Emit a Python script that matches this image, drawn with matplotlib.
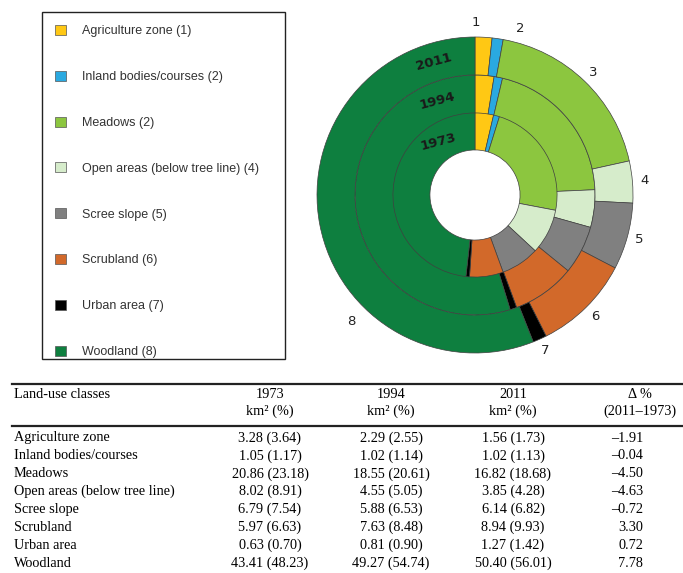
import numpy as np
import matplotlib.pyplot as plt
from matplotlib.patches import Patch, Rectangle
from matplotlib.lines import Line2D

# Land-use data (km2 and % of area) per year
clases = ['Agriculture zone', 'Inland bodies/courses', 'Meadows',
          'Open areas (below tree line)', 'Scree slope', 'Scrubland',
          'Urban area', 'Woodland']
leyenda = ['Agriculture zone (1)', 'Inland bodies/courses (2)', 'Meadows (2)',
           'Open areas (below tree line) (4)', 'Scree slope (5)',
           'Scrubland (6)', 'Urban area (7)', 'Woodland (8)']
numeros = ['1', '2', '3', '4', '5', '6', '7', '8']
anios = ['1973', '1994', '2011']

km2_1973 = [3.28, 1.05, 20.86, 8.02, 6.79, 5.97, 0.63, 43.41]
pct_1973 = [3.64, 1.17, 23.18, 8.91, 7.54, 6.63, 0.70, 48.23]
km2_1994 = [2.29, 1.02, 18.55, 4.55, 5.88, 7.63, 0.81, 49.27]
pct_1994 = [2.55, 1.14, 20.61, 5.05, 6.53, 8.48, 0.90, 54.74]
km2_2011 = [1.56, 1.02, 16.82, 3.85, 6.14, 8.94, 1.27, 50.40]
pct_2011 = [1.73, 1.13, 18.68, 4.28, 6.82, 9.93, 1.42, 56.01]
delta = [-1.91, -0.04, -4.50, -4.63, -0.72, 3.30, 0.72, 7.78]

colores = ['#FFC814', '#2AA9E0', '#8CC63F', '#D6ECCB', '#808080',
           '#D2692A', '#000000', '#0E7F3F']

W, H = 683, 573
fig = plt.figure(figsize=(W / 100, H / 100), dpi=100)


def fx(px):
    return px / W


def fy(py):
    return 1 - py / H


# ---- donut ----
cx, cy, R, half = 475, 195, 158, 178
ax = fig.add_axes([fx(cx - half), fy(cy + half), 2 * half / W, 2 * half / H])
radios = [83 / R, 120 / R, 1.0]
ancho = 37 / R
for pct, r in zip([pct_1973, pct_1994, pct_2011], radios):
    ax.pie(pct, radius=r, colors=colores, startangle=90, counterclock=False,
           wedgeprops=dict(width=ancho + 0.006, edgecolor='#404040', linewidth=0.5))
ax.set_xlim(-half / R, half / R)
ax.set_ylim(-half / R, half / R)
ax.set_aspect('equal')
ax.axis('off')

# class numbers around the outer ring (2011)
tot = sum(pct_2011)
medios = (np.cumsum(pct_2011) - np.array(pct_2011) / 2) / tot * 360
ajuste = {0: (-3, 1.09), 1: (7, 1.09), 7: (-35, 1.12)}
for i, num in enumerate(numeros):
    dang, rr = ajuste.get(i, (0, 1.08))
    a = np.deg2rad(90 - (medios[i] + dang))
    ax.text(rr * np.cos(a), rr * np.sin(a), num, ha='center', va='center',
            fontsize=9.5, color='#222222')

# year labels inside the woodland wedge
for anio, r, ang in zip(anios, radios, [35, 22, 17]):
    rm = r - ancho / 2
    a = np.deg2rad(90 + ang)
    ax.text(rm * np.cos(a), rm * np.sin(a), anio, ha='center', va='center',
            fontsize=9.5, fontweight='bold', color='#1a1a1a', rotation=15)

# ---- legend ----
handles = [Patch(facecolor=c, edgecolor='#555555', linewidth=0.5) for c in colores]
fig.add_artist(Rectangle((fx(42), fy(359)), fx(285) - fx(42), fy(12) - fy(359),
                         transform=fig.transFigure, fill=False,
                         edgecolor='#222222', linewidth=1.0))
fig.legend(handles, leyenda, loc='upper left', bbox_to_anchor=(fx(55), fy(25)),
           frameon=False, labelspacing=2.68,
           handlelength=0.85, handleheight=0.85, handletextpad=1.3,
           borderpad=0, borderaxespad=0,
           prop={'family': 'Liberation Sans', 'size': 9.0},
           labelcolor='#333333')

# ---- table ----
serif = 'Liberation Serif'
ts = 10.3
fig.add_artist(Line2D([fx(12), fx(683)], [fy(384), fy(384)], color='#222222', lw=1.6))
fig.add_artist(Line2D([fx(12), fx(683)], [fy(426), fy(426)], color='#222222', lw=1.6))

fig.text(fx(14), fy(394), 'Land-use classes', family=serif, fontsize=ts,
         ha='left', va='center')
cols_x = [270, 391, 513]
for x, anio in zip(cols_x, anios):
    fig.text(fx(x), fy(394), anio, family=serif, fontsize=ts, ha='center', va='center')
    fig.text(fx(x), fy(411), 'km\u00b2 (%)', family=serif, fontsize=ts,
             ha='center', va='center')
fig.text(fx(640), fy(394), '\u0394 %', family=serif, fontsize=ts, ha='center', va='center')
fig.text(fx(640), fy(411), '(2011\u20131973)', family=serif, fontsize=ts,
         ha='center', va='center')

datos = [(km2_1973, pct_1973), (km2_1994, pct_1994), (km2_2011, pct_2011)]
for i, nombre in enumerate(clases):
    y = fy(438 + i * 17.9)
    fig.text(fx(14), y, nombre, family=serif, fontsize=ts, ha='left', va='center')
    for x, (km, pc) in zip(cols_x, datos):
        fig.text(fx(x), y, f'{km[i]:.2f} ({pc[i]:.2f})', family=serif,
                 fontsize=ts, ha='center', va='center')
    d = f'{delta[i]:.2f}'.replace('-', '\u2013')
    fig.text(fx(643), y, d, family=serif, fontsize=ts, ha='right', va='center')

fig.savefig('out.png', dpi=100)
